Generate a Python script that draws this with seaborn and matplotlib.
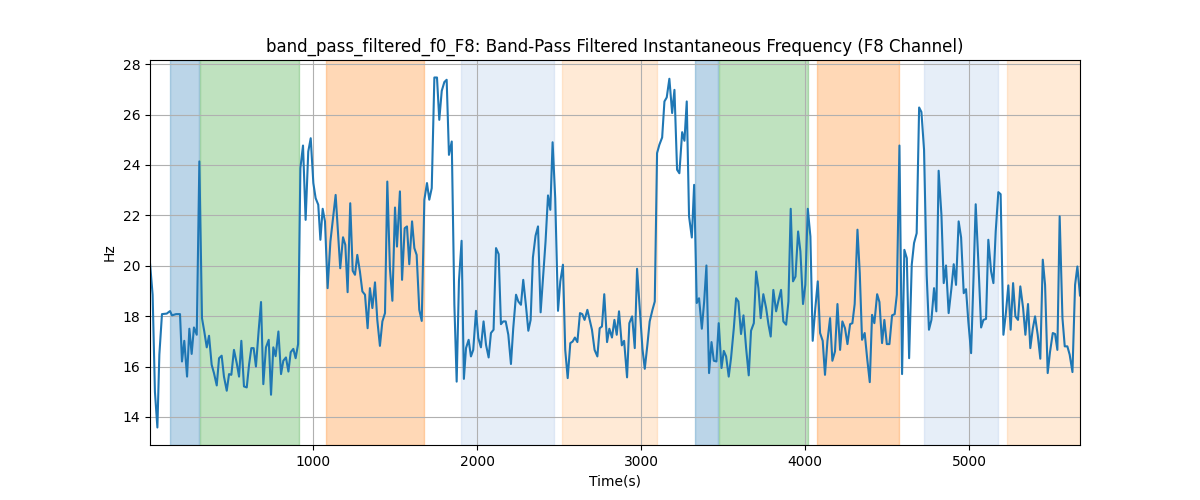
import matplotlib
matplotlib.use("Agg")
import matplotlib.pyplot as plt
import seaborn as sns

# instantaneous frequency trace (time in s, frequency in Hz)
time_s = [6, 22, 36, 51, 63, 79, 108, 128, 140, 165, 189, 201, 215, 232, 246, 260, 274, 291,
          307, 323, 337, 352, 366, 382, 396, 413, 427, 443, 457, 474, 488, 502, 518, 535, 549,
          563, 579, 596, 610, 624, 638, 652, 669, 683, 697, 713, 730, 744, 758, 772, 789, 805,
          819, 835, 850, 864, 880, 894, 909, 923, 939, 955, 971, 986, 1002, 1016, 1032, 1045,
          1059, 1073, 1089, 1106, 1122, 1138, 1152, 1166, 1183, 1197, 1211, 1227, 1242, 1256,
          1270, 1286, 1301, 1317, 1333, 1347, 1362, 1378, 1392, 1408, 1423, 1439, 1453, 1469,
          1484, 1500, 1512, 1530, 1543, 1559, 1573, 1587, 1604, 1618, 1632, 1648, 1663, 1679,
          1695, 1709, 1724, 1740, 1756, 1770, 1785, 1801, 1815, 1829, 1846, 1862, 1876, 1890,
          1906, 1920, 1933, 1949, 1963, 1977, 1994, 2008, 2024, 2040, 2055, 2071, 2085, 2101,
          2116, 2132, 2146, 2160, 2175, 2191, 2207, 2221, 2238, 2252, 2268, 2282, 2299, 2313,
          2327, 2341, 2357, 2372, 2388, 2404, 2418, 2433, 2447, 2461, 2477, 2494, 2508, 2524,
          2538, 2553, 2569, 2583, 2597, 2612, 2628, 2642, 2656, 2673, 2687, 2701, 2717, 2734,
          2748, 2762, 2776, 2793, 2807, 2823, 2838, 2852, 2866, 2883, 2897, 2915, 2929, 2946,
          2962, 2976, 2992, 3009, 3023, 3039, 3053, 3070, 3084, 3098, 3112, 3129, 3143, 3157,
          3173, 3190, 3204, 3220, 3234, 3251, 3265, 3279, 3293, 3310, 3324, 3340, 3354, 3371,
          3385, 3399, 3415, 3430, 3444, 3460, 3474, 3491, 3505, 3519, 3535, 3549, 3566, 3580,
          3594, 3610, 3625, 3641, 3657, 3671, 3688, 3702, 3716, 3730, 3746, 3763, 3777, 3791,
          3807, 3824, 3838, 3854, 3868, 3885, 3899, 3913, 3927, 3942, 3958, 3972, 3988, 4002,
          4017, 4033, 4047, 4063, 4078, 4092, 4108, 4122, 4137, 4153, 4167, 4183, 4198, 4214,
          4228, 4244, 4259, 4275, 4289, 4303, 4320, 4334, 4348, 4364, 4379, 4395, 4409, 4423,
          4440, 4454, 4470, 4484, 4499, 4515, 4531, 4547, 4560, 4576, 4592, 4606, 4621, 4635,
          4651, 4665, 4681, 4696, 4710, 4726, 4742, 4756, 4771, 4787, 4801, 4815, 4832, 4846,
          4860, 4876, 4893, 4907, 4921, 4937, 4952, 4968, 4982, 4996, 5013, 5027, 5041, 5057,
          5074, 5088, 5104, 5118, 5135, 5149, 5163, 5179, 5193, 5210, 5224, 5240, 5254, 5269,
          5283, 5299, 5313, 5330, 5344, 5360, 5374, 5389, 5403, 5419, 5435, 5450, 5464, 5480,
          5494, 5511, 5525, 5539, 5553, 5570, 5584, 5600, 5614, 5631, 5647, 5661, 5677]
freq_hz = [20.1, 18.85, 15.0, 13.58, 16.47, 18.08, 18.1, 18.2, 18.03, 18.08, 18.08, 16.2, 17.02,
           15.6, 17.5, 16.5, 17.55, 17.26, 24.14, 17.92, 17.39, 16.76, 17.22, 16.07, 15.74, 15.25,
           16.33, 16.43, 15.6, 15.04, 15.7, 15.67, 16.66, 16.13, 15.6, 17.02, 15.21, 15.17, 16.07,
           16.73, 16.73, 16.0, 17.46, 18.56, 15.3, 16.76, 17.06, 14.88, 16.76, 16.41, 17.39, 15.7,
           16.23, 16.36, 15.8, 16.57, 16.7, 16.33, 16.89, 23.87, 24.77, 21.82, 24.53, 25.06, 23.28,
           22.68, 22.42, 21.03, 22.26, 21.76, 19.11, 20.96, 21.89, 22.81, 21.36, 19.9, 21.13, 20.83,
           18.95, 22.48, 19.8, 19.64, 20.43, 19.77, 18.98, 18.85, 17.52, 19.11, 18.32, 19.34, 17.85,
           16.82, 17.79, 18.12, 23.34, 19.9, 18.61, 22.31, 20.76, 22.95, 19.44, 21.49, 21.56, 20.06,
           21.76, 20.7, 20.43, 18.25, 17.81, 22.62, 23.28, 22.62, 23.08, 27.47, 27.47, 25.79, 26.94,
           27.29, 27.38, 24.4, 24.93, 18.45, 15.4, 19.4, 20.99, 15.51, 16.73, 17.06, 16.4, 16.66,
           18.21, 17.13, 16.76, 17.79, 16.86, 16.36, 17.33, 17.46, 20.7, 20.46, 17.68, 17.79, 17.79,
           17.26, 16.1, 17.52, 18.85, 18.58, 18.45, 19.44, 18.38, 17.42, 17.85, 20.33, 21.19, 21.56,
           18.15, 19.64, 20.96, 22.79, 22.22, 24.9, 22.68, 18.21, 19.38, 20.04, 16.66, 15.54, 16.93,
           16.99, 17.15, 16.97, 18.12, 18.08, 17.85, 18.25, 17.85, 17.46, 16.66, 16.4, 17.52, 17.59,
           18.87, 16.97, 17.5, 17.15, 17.85, 17.26, 18.19, 16.84, 17.02, 15.57, 17.72, 17.99, 16.73,
           19.88, 18.32, 16.7, 15.91, 16.86, 17.79, 18.25, 18.58, 24.47, 24.8, 25.09, 26.52, 26.68,
           27.42, 26.06, 26.98, 23.81, 23.67, 25.3, 24.96, 26.52, 21.96, 21.12, 23.21, 18.52, 18.71,
           17.5, 18.56, 20.01, 15.74, 16.97, 16.23, 16.2, 17.72, 15.94, 16.62, 16.4, 15.6, 16.33,
           17.52, 18.71, 18.58, 17.29, 18.03, 16.73, 15.65, 17.42, 17.72, 19.77, 19.11, 17.92,
           18.87, 18.32, 17.68, 17.19, 19.04, 18.19, 18.61, 19.04, 17.79, 17.66, 18.58, 22.26,
           19.38, 19.57, 21.36, 20.57, 18.48, 19.24, 22.26, 21.16, 17.02, 18.32, 19.38, 17.33,
           17.02, 15.67, 17.02, 17.92, 16.23, 16.6, 18.48, 16.66, 17.79, 17.52, 16.89, 17.68, 17.72,
           18.48, 21.43, 19.71, 17.06, 17.33, 16.33, 15.38, 18.05, 17.72, 18.87, 18.56, 16.93, 17.85,
           16.89, 16.89, 18.03, 18.08, 18.85, 24.77, 15.7, 20.63, 20.3, 16.33, 20.04, 20.9, 21.29,
           26.28, 26.1, 24.6, 19.64, 17.46, 17.85, 19.11, 18.19, 23.77, 22.02, 19.31, 20.01, 18.12,
           19.11, 20.06, 19.24, 21.76, 21.12, 18.91, 19.07, 17.79, 16.53, 19.38, 22.44, 20.17, 17.55,
           17.85, 17.89, 21.03, 19.77, 19.31, 21.36, 22.92, 22.84, 17.26, 18.05, 19.22, 17.46, 19.31,
           17.99, 17.85, 19.18, 18.32, 17.26, 18.48, 16.73, 17.5, 17.99, 17.26, 16.31, 20.24, 19.24,
           15.74, 16.57, 17.33, 17.29, 16.66, 21.96, 17.92, 16.8, 16.8, 16.47, 15.78, 19.24, 19.97,
           18.82]

# shaded segments (start, end) in seconds
span_start = [128, 311, 1079, 1902, 2518, 3330, 3474, 4076, 4726, 5232]
span_end = [305, 916, 1675, 2467, 3096, 3472, 4017, 4572, 5175, 5677]
span_color = ['tab:blue', 'tab:green', 'tab:orange', '#aec7e8', '#ffbb78',
              'tab:blue', 'tab:green', 'tab:orange', '#aec7e8', '#ffbb78']
span_alpha = [0.3, 0.3, 0.3, 0.3, 0.3, 0.3, 0.3, 0.3, 0.3, 0.3]

fig, ax = plt.subplots(figsize=(12, 5), dpi=100)

for s, e, c, a in zip(span_start, span_end, span_color, span_alpha):
    ax.axvspan(s, e, color=c, alpha=a)

sns.lineplot(x=time_s, y=freq_hz, ax=ax, color='tab:blue', linewidth=1.5)

ax.set_xlim(time_s[0], time_s[-1])
ax.grid(True)
ax.set_title('band_pass_filtered_f0_F8: Band-Pass Filtered Instantaneous Frequency (F8 Channel)')
ax.set_xlabel('Time(s)')
ax.set_ylabel('Hz')

fig.savefig('out.png')
